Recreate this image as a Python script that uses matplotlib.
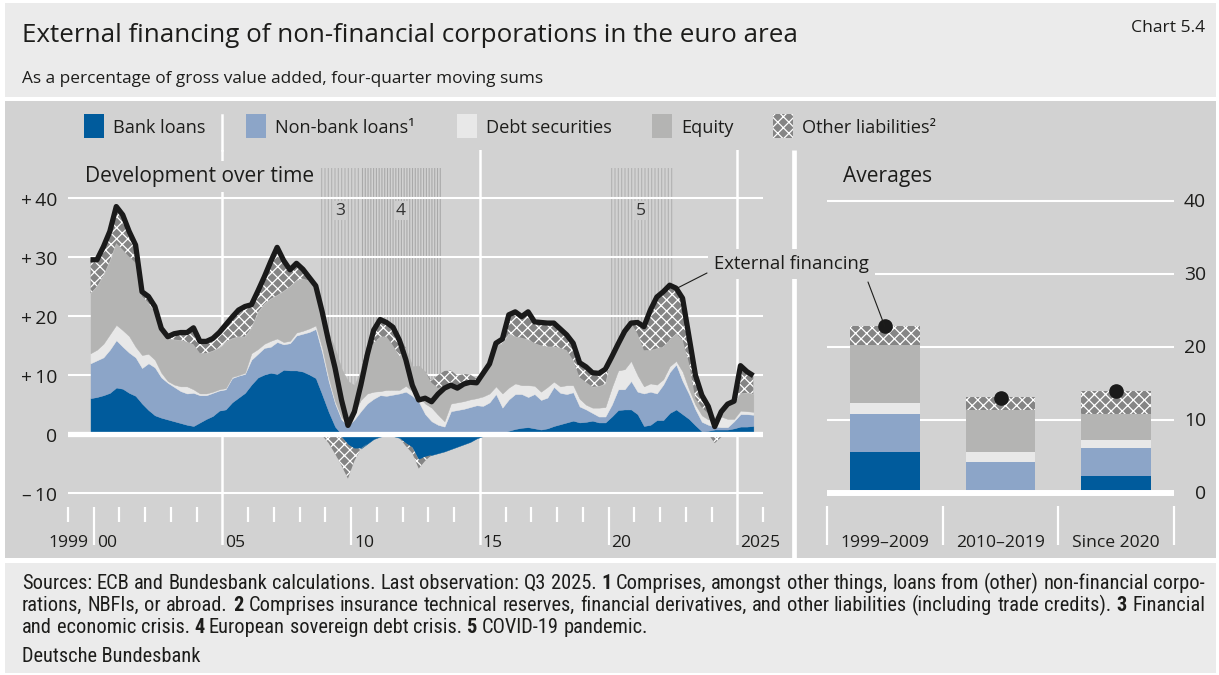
import numpy as np
import pandas as pd
import matplotlib
matplotlib.use("Agg")
import matplotlib.pyplot as plt
from matplotlib import font_manager
from matplotlib.patches import Rectangle, ConnectionPatch

# ------------------------------------------------------------------ data
quarters = pd.period_range("1999Q4", "2025Q3", freq="Q")

bank_loans = [
    6.1, 6.3, 6.6, 7.0, 7.9, 7.7, 7.0, 6.5, 5.2, 4.1,
    3.2, 2.8, 2.5, 2.2, 1.9, 1.6, 1.4, 2.0, 2.6, 3.1,
    4.0, 4.2, 5.4, 6.2, 7.0, 8.4, 9.6, 10.1, 10.4, 10.2,
    10.9, 10.8, 10.8, 10.6, 10.1, 9.5, 6.7, 3.8, 1.3, -0.4,
    -1.7, -2.4, -2.4, -1.6, -0.8, -0.4, -0.2, -0.3, -0.6, -1.5,
    -2.2, -4.3, -3.8, -3.5, -3.2, -2.9, -2.5, -2.1, -1.7, -1.3,
    -0.7, -0.3, 0.0, 0.1, 0.3, 0.6, 0.9, 1.1, 1.2, 1.0,
    0.8, 1.0, 1.4, 1.7, 2.0, 2.3, 2.0, 2.1, 2.3, 2.0,
    2.0, 3.0, 4.1, 4.2, 4.2, 3.4, 1.4, 1.6, 2.4, 2.4,
    3.6, 4.2, 3.4, 2.6, 1.5, 0.5, 0.6, 0.8, 0.8, 0.8,
    1.0, 1.3, 1.3, 1.4,
]
non_bank_loans = [
    5.9, 6.2, 6.4, 7.3, 8.0, 7.1, 6.8, 6.5, 6.0, 7.9,
    8.1, 6.8, 6.2, 5.8, 5.4, 5.3, 5.6, 4.6, 4.0, 3.9,
    3.4, 3.4, 4.1, 3.7, 3.2, 4.2, 4.0, 4.5, 4.4, 5.4,
    4.3, 4.6, 5.9, 6.4, 7.2, 8.3, 7.1, 5.2, 3.9, 2.5,
    1.4, 2.5, 3.9, 5.2, 6.0, 6.6, 6.5, 6.7, 6.9, 7.2,
    6.5, 5.5, 3.4, 2.2, 1.6, 1.3, 3.9, 4.1, 4.3, 4.6,
    4.9, 4.8, 5.4, 6.7, 4.2, 5.3, 5.9, 5.7, 5.1, 5.8,
    5.0, 5.2, 6.6, 5.3, 4.8, 4.8, 2.7, 2.1, 1.3, 1.0,
    1.0, 2.0, 3.5, 3.4, 4.8, 3.8, 5.5, 5.6, 4.5, 6.0,
    6.9, 7.6, 5.6, 4.2, 2.7, 1.6, 1.0, 0.5, 0.4, 0.4,
    1.2, 2.1, 2.1, 1.9,
]
debt_securities = [
    1.7, 1.8, 2.3, 2.6, 2.6, 2.8, 2.8, 1.8, 2.2, 1.6,
    1.3, 0.8, 0.3, 0.4, 0.8, 1.2, 0.6, 0.3, 0.3, 0.2,
    0.2, 0.2, 0.2, 0.1, 0.2, 1.1, 0.8, 0.7, 1.0, 0.6,
    0.4, 0.4, 0.5, 0.5, 0.6, 0.6, 0.8, 0.6, 0.4, 0.4,
    0.3, 1.2, 1.9, 1.7, 1.2, 0.7, 1.0, 0.8, 0.6, 1.0,
    0.8, 0.9, 1.8, 2.3, 1.7, 0.9, 1.3, 1.3, 1.3, 1.3,
    1.2, 1.6, 1.5, 1.3, 2.4, 2.0, 1.8, 1.5, 2.0, 1.4,
    1.4, 1.8, 0.9, 1.1, 1.5, 1.2, 1.3, 0.8, 0.9, 1.5,
    1.6, 2.9, 3.2, 3.4, 3.4, 2.8, 1.2, 1.4, 1.5, 0.9,
    1.0, 0.6, 1.6, 0.8, 0.8, 1.1, 0.9, 1.3, 1.8, 1.4,
    0.4, 0.6, 0.5, 0.5,
]
equity = [
    10.1, 10.7, 11.5, 12.4, 13.8, 13.6, 13.4, 14.2, 9.9, 8.6,
    8.0, 7.2, 7.2, 7.6, 7.8, 7.5, 7.6, 6.8, 6.8, 6.9,
    7.0, 7.8, 6.5, 6.5, 6.1, 4.3, 6.2, 6.7, 7.1, 7.3,
    8.6, 9.2, 8.8, 8.8, 8.1, 6.7, 6.3, 7.6, 8.9, 8.2,
    7.3, 4.6, 5.0, 7.1, 8.2, 9.2, 9.0, 7.5, 5.7, 6.4,
    4.2, 5.2, 5.4, 4.2, 4.5, 6.0, 3.4, 2.7, 3.1, 3.4,
    3.0, 4.2, 5.0, 7.0, 8.4, 9.1, 7.9, 8.0, 7.7, 7.2,
    7.8, 6.8, 5.9, 6.5, 5.9, 4.2, 3.6, 3.8, 3.5, 3.6,
    3.9, 5.2, 4.9, 6.7, 6.4, 7.0, 6.1, 5.6, 6.1, 5.5,
    4.5, 4.6, 5.4, 4.4, 1.0, 1.3, 1.0, 0.2, 1.3, 2.5,
    2.8, 2.9, 3.1, 3.0,
]
other_liabilities = [
    5.7, 4.5, 4.9, 5.0, 6.2, 5.9, 4.3, 3.0, 0.8, 1.1,
    1.0, 0.3, 0.3, 1.0, 1.3, 1.6, 2.8, 2.0, 2.0, 2.1,
    2.6, 2.9, 3.6, 4.5, 5.1, 3.9, 3.6, 4.6, 6.3, 8.1,
    5.2, 2.8, 2.9, 1.6, 0.5, 0.0, -0.2, -1.5, -3.3, -4.9,
    -5.8, -2.1, -0.1, 1.0, 3.0, 3.3, 2.6, 3.4, 3.3, -0.5,
    -1.0, -1.5, -0.7, 0.3, 2.2, 2.5, 2.2, 1.8, 1.5, 0.8,
    0.3, 0.0, 0.0, 0.3, 0.8, 3.2, 4.2, 3.6, 4.7, 3.6,
    3.9, 4.0, 4.0, 3.2, 2.6, 2.9, 2.5, 2.6, 2.4, 2.2,
    2.5, 0.0, -0.4, -0.3, 0.0, 1.9, 4.0, 6.8, 8.7, 9.3,
    9.2, 7.7, 7.0, 4.5, 4.0, 2.1, 1.2, -1.5, -0.5, 0.0,
    0.2, 4.7, 3.6, 3.1,
]
external_financing = [
    29.5, 29.5, 31.7, 34.3, 38.5, 37.1, 34.3, 32.0, 24.1, 23.3,
    21.6, 17.9, 16.5, 17.0, 17.2, 17.2, 18.0, 15.7, 15.7, 16.2,
    17.2, 18.5, 19.8, 21.0, 21.6, 21.9, 24.2, 26.6, 29.2, 31.6,
    29.4, 27.8, 28.9, 27.9, 26.5, 25.1, 20.7, 15.7, 11.2, 5.8,
    1.5, 3.8, 8.3, 13.4, 17.6, 19.4, 18.9, 18.1, 15.9, 12.6,
    8.3, 5.8, 6.1, 5.5, 6.8, 7.8, 8.3, 7.8, 8.5, 8.8,
    8.7, 10.3, 11.9, 15.4, 16.1, 20.2, 20.7, 19.9, 20.7, 19.0,
    18.9, 18.8, 18.8, 17.8, 16.8, 15.4, 12.1, 11.4, 10.4, 10.3,
    11.0, 13.1, 15.3, 17.4, 18.8, 18.9, 18.2, 21.0, 23.2, 24.1,
    25.2, 24.7, 23.0, 16.5, 10.0, 6.6, 4.7, 1.3, 3.8, 5.1,
    5.6, 11.6, 10.6, 9.9,
]

avg_periods = ["1999–2009", "2010–2019", "Since 2020"]
avg_bank_loans = [5.6, -0.2, 2.3]
avg_non_bank_loans = [5.3, 4.3, 3.9]
avg_debt_securities = [1.4, 1.4, 1.1]
avg_equity = [8.0, 5.7, 3.5]
avg_other_liabilities = [2.5, 1.8, 3.2]
avg_external_financing = [22.8, 13.0, 14.0]

crisis_labels = ["3", "4", "5"]
crisis_spans = [(2008.75, 2010.375), (2010.375, 2013.5), (2020.0, 2022.5)]

year_labels = {1999: "1999", 2000: "00", 2005: "05", 2010: "10",
               2015: "15", 2020: "20", 2025: "2025"}
left_ticks = [-10, 0, 10, 20, 30, 40]
right_ticks = [0, 10, 20, 30, 40]

legend_labels = ["Bank loans", "Non-bank loans\u00b9", "Debt securities",
                 "Equity", "Other liabilities\u00b2"]

TITLE = "External financing of non-financial corporations in the euro area"
SUBTITLE = "As a percentage of gross value added, four-quarter moving sums"
footnote_lines = [
    "Sources: ECB and Bundesbank calculations. Last observation: Q3 2025. **1** Comprises, "
    "amongst other things, loans from (other) non-financial corpo-",
    "rations, NBFIs, or abroad. **2** Comprises insurance technical reserves, financial "
    "derivatives, and other liabilities (including trade credits). **3** Financial",
    "and economic crisis. **4** European sovereign debt crisis. **5** COVID-19 pandemic.",
]

# ------------------------------------------------------------------ style
installed = {f.name for f in font_manager.fontManager.ttflist}


def first_font(*names):
    for n in names:
        if n in installed:
            return n
    return "DejaVu Sans"


SANS = first_font("Open Sans", "Noto Sans", "Lato", "DejaVu Sans")
NARROW = first_font("Liberation Sans Narrow", "Roboto Condensed",
                    "Open Sans Condensed", SANS)
plt.rcParams["font.family"] = [SANS, "DejaVu Sans"]
plt.rcParams["hatch.linewidth"] = 0.9

TXT = "#1d1d1b"
BG_HEAD = "#ebebeb"
BG_PANEL = "#d2d2d2"
C_BANK = "#005b9c"
C_NONBANK = "#8ca5c8"
C_DEBT = "#e8e8e8"
C_EQUITY = "#b4b4b3"
C_OTHER = "#858585"
C_LINE = "#1a1a1a"
HATCH = "xxx"

W, H, DPI = 1219, 675, 100
fig = plt.figure(figsize=(W / DPI, H / DPI), dpi=DPI, facecolor="white")


def fig_axes(x0, y0, x1, y1, **kw):
    """Axes placed by a pixel box measured from the top-left corner."""
    return fig.add_axes([x0 / W, 1 - y1 / H, (x1 - x0) / W, (y1 - y0) / H], **kw)


bg = fig_axes(0, 0, W, H, zorder=-10)
bg.set_xlim(0, W)
bg.set_ylim(H, 0)
bg.axis("off")

bg.add_patch(Rectangle((5, 3), W - 8, 94, color=BG_HEAD, lw=0))
bg.add_patch(Rectangle((5, 101), W - 8, 457, color=BG_PANEL, lw=0))
bg.add_patch(Rectangle((5, 563), W - 8, 110, color=BG_HEAD, lw=0))
# divider between the two panels
bg.plot([793.5, 793.5], [150, 558], color="white", lw=3.4, solid_capstyle="butt")

renderer = fig.canvas.get_renderer()


def text_width(artist):
    return artist.get_window_extent(renderer=renderer).width


def size_for(s, width, **kw):
    probe = bg.text(0, 300, s, fontsize=20, **kw)
    w = text_width(probe)
    probe.remove()
    return 20 * width / w


# ------------------------------------------------------------------ header
bg.text(22, 41.5, TITLE, fontsize=size_for(TITLE, 773), color=TXT, va="baseline")
bg.text(22, 83, SUBTITLE, fontsize=size_for(SUBTITLE, 519), color=TXT, va="baseline")
bg.text(1205, 32, "Chart 5.4", fontsize=size_for("Chart 5.4", 74), color=TXT,
        va="baseline", ha="right")

# ------------------------------------------------------------------ legend
leg_size = size_for("Debt securities", 126)
leg_box_x = [84, 246, 457, 652, 773]
leg_colors = [C_BANK, C_NONBANK, C_DEBT, C_EQUITY, C_OTHER]
for lab, bx, col in zip(legend_labels, leg_box_x, leg_colors):
    hatched = col == C_OTHER
    bg.add_patch(Rectangle((bx, 114), 20, 24, facecolor=col,
                           edgecolor="white" if hatched else col,
                           hatch=HATCH if hatched else None, lw=0))
    bg.text(bx + 29, 133, lab, fontsize=leg_size, color=TXT, va="baseline")

# panel headings (drawn at figure level so they sit over grid lines)
head_size = size_for("Development over time", 230, fontweight="medium")
fig.text(85, 182, "Development over time", transform=bg.transData, fontsize=head_size,
         fontweight="medium", color=TXT, va="baseline", zorder=10,
         bbox=dict(boxstyle="square,pad=0.25", fc=BG_PANEL, ec="none"))
fig.text(843, 182, "Averages", transform=bg.transData, fontsize=head_size,
         fontweight="medium", color=TXT, va="baseline", zorder=10)

tick_size = size_for("1999", 40)
ytick_size = size_for("40", 22)

# ------------------------------------------------------------------ left panel
t = np.array([q.year + (q.quarter - 0.5) / 4 for q in quarters])

axL = fig_axes(68, 150, 763, 545)
axL.set_xlim(1999, 2026)
YL0, YL1 = -18.72, 48.06
axL.set_ylim(YL0, YL1)
axL.axis("off")

# crisis periods: fine vertical stripes
stripe_style = [("#b2b2b2", "|||||"), ("#a9a9a9", "||||||"), ("#b2b2b2", "|||||")]
with plt.rc_context({"hatch.linewidth": 0.8}):
    for (s, e), (col, h) in zip(crisis_spans, stripe_style):
        axL.fill_between([s, e], 0, 45, facecolor="none", edgecolor=col,
                         hatch=h, lw=0, zorder=0.5)
for (s, e), lab in zip(crisis_spans, crisis_labels):
    axL.text((s + e) / 2, 37.8, lab, ha="center", va="center", fontsize=tick_size,
             color="#333333", zorder=0.8,
             bbox=dict(boxstyle="square,pad=0.1", fc="#cdcdcd", ec="none"))

for v in left_ticks:
    if v != 0:
        axL.axhline(v, color="white", lw=1.5, zorder=1)
axL.axhline(0, color="white", lw=3.8, zorder=4)

for yr in (2005, 2015, 2025):
    axL.axvline(yr, color="white", lw=1.8, zorder=1)
axL.plot([2005, 2005], [YL1, 54.0], color="white", lw=1.8, clip_on=False, zorder=1)

for yr in range(1999, 2027):
    if yr in (2005, 2015, 2025):
        continue
    low = YL0 if yr in (2000, 2010, 2020) else -14.83
    axL.plot([yr, yr], [-12.29, low], color="white", lw=1.6, clip_on=False,
             solid_capstyle="butt", zorder=1)

for yr, lab in year_labels.items():
    if yr == 1999:
        axL.annotate(lab, xy=(2000, -19.0), xytext=(-5, 0), textcoords="offset pixels",
                     ha="right", va="baseline", fontsize=tick_size, color=TXT,
                     annotation_clip=False)
    else:
        axL.annotate(lab, xy=(yr, -19.0), xytext=(3, 0), textcoords="offset pixels",
                     ha="left", va="baseline", fontsize=tick_size, color=TXT,
                     annotation_clip=False)

for v in left_ticks:
    if v > 0:
        lab = "+\u2009" + str(v)
    elif v < 0:
        lab = "\u2013\u2009" + str(-v)
    else:
        lab = "0"
    axL.annotate(lab, xy=(1999, v), xytext=(-11, -8), textcoords="offset pixels",
                 ha="right", va="baseline", fontsize=ytick_size, color=TXT,
                 annotation_clip=False)

components = [
    (bank_loans, C_BANK, None),
    (non_bank_loans, C_NONBANK, None),
    (debt_securities, C_DEBT, None),
    (equity, C_EQUITY, None),
    (other_liabilities, C_OTHER, HATCH),
]
pos_base = np.zeros(len(t))
neg_base = np.zeros(len(t))
for vals, col, h in components:
    v = np.asarray(vals, dtype=float)
    pos = np.clip(v, 0, None)
    neg = np.clip(v, None, 0)
    for base, part in ((pos_base, pos), (neg_base, neg)):
        if np.any(part != 0):
            if h:
                axL.fill_between(t, base, base + part, facecolor=col, edgecolor="white",
                                 hatch=h, lw=0, zorder=2)
            else:
                axL.fill_between(t, base, base + part, facecolor=col, edgecolor=col,
                                 lw=0.3, zorder=2)
    pos_base = pos_base + pos
    neg_base = neg_base + neg

axL.plot(t, external_financing, color=C_LINE, lw=3.8, solid_joinstyle="round",
         solid_capstyle="butt", zorder=5)

# ------------------------------------------------------------------ right panel
axR = fig_axes(827, 150, 1174, 545)
axR.set_xlim(0, 3)
YR0, YR1 = -7.07, 46.92
axR.set_ylim(YR0, YR1)
axR.axis("off")

for v in right_ticks:
    if v != 0:
        axR.axhline(v, color="white", lw=1.5, zorder=1)
    axR.annotate(str(v), xy=(3, v), xytext=(32, -6), textcoords="offset pixels",
                 ha="right", va="baseline", fontsize=ytick_size, color=TXT,
                 annotation_clip=False)
axR.axhline(0, color="white", lw=4.3, zorder=4)

for k in range(4):
    axR.plot([k, k], [-1.74, YR0], color="white", lw=1.6, clip_on=False,
             solid_capstyle="butt")

xb = np.arange(len(avg_periods)) + 0.5
avg_components = [
    (avg_bank_loans, C_BANK, None),
    (avg_non_bank_loans, C_NONBANK, None),
    (avg_debt_securities, C_DEBT, None),
    (avg_equity, C_EQUITY, None),
    (avg_other_liabilities, C_OTHER, HATCH),
]
pb = np.zeros(len(xb))
nb = np.zeros(len(xb))
for vals, col, h in avg_components:
    v = np.asarray(vals, dtype=float)
    pos = np.clip(v, 0, None)
    neg = np.clip(v, None, 0)
    for base, part in ((pb, pos), (nb, neg)):
        axR.bar(xb, part, bottom=base, width=0.6, color=col,
                edgecolor="white" if h else col, hatch=h, lw=0, zorder=2)
    pb = pb + pos
    nb = nb + neg

axR.plot(xb, avg_external_financing, "o", ms=9.5, color=C_LINE, zorder=6)

for x, lab in zip(xb, avg_periods):
    axR.text(x, -7.3, lab, ha="center", va="baseline", fontsize=tick_size, color=TXT,
             clip_on=False)

# ------------------------------------------------------------------ annotation
ann_size = size_for("External financing", 154)
fig.text(714, 264, "External financing", transform=bg.transData, fontsize=ann_size,
         color=TXT, va="center", ha="left", zorder=10,
         bbox=dict(boxstyle="square,pad=0.35", fc=BG_PANEL, ec="none"))
i_peak = int(np.argmax(np.asarray(external_financing[80:]))) + 80
cp1 = ConnectionPatch(xyA=(707, 273), coordsA=bg.transData,
                      xyB=(t[i_peak] + 0.2, external_financing[i_peak] - 0.7),
                      coordsB=axL.transData, color=TXT, lw=0.8, zorder=9)
cp2 = ConnectionPatch(xyA=(868, 282), coordsA=bg.transData,
                      xyB=(xb[0], avg_external_financing[0]),
                      coordsB=axR.transData, color=TXT, lw=0.8, zorder=9)
fig.add_artist(cp1)
fig.add_artist(cp2)

# ------------------------------------------------------------------ footnotes
foot_family = [NARROW, "DejaVu Sans"]


def make_words(line, size):
    arts = []
    for w in line.split(" "):
        bold = w.startswith("**")
        s = w.strip("*") if bold else w
        arts.append(bg.text(0, 0, s, fontsize=size, family=foot_family,
                            fontweight="bold" if bold else "normal",
                            va="baseline", color=TXT))
    return arts


def space_width(size):
    a = bg.text(0, 0, "a a", fontsize=size, family=foot_family)
    b = bg.text(0, 0, "aa", fontsize=size, family=foot_family)
    w = text_width(a) - text_width(b)
    a.remove()
    b.remove()
    return w


probe = make_words(footnote_lines[1], 10)
natural = sum(text_width(a) for a in probe) + (len(probe) - 1) * space_width(10)
for a in probe:
    a.remove()
foot_size = 10 * 1183 / natural * 0.985
sp = space_width(foot_size)

for k, (line, yb) in enumerate(zip(footnote_lines, (589, 611, 633))):
    arts = make_words(line, foot_size)
    widths = [text_width(a) for a in arts]
    gap = (1205 - 22 - sum(widths)) / (len(arts) - 1) if k < 2 else sp
    x = 22
    for a, w in zip(arts, widths):
        a.set_position((x, yb))
        x += w + gap

bg.text(22, 662, "Deutsche Bundesbank", fontsize=foot_size, family=foot_family,
        va="baseline", color=TXT)

fig.savefig("out.png", dpi=DPI, facecolor=fig.get_facecolor())
